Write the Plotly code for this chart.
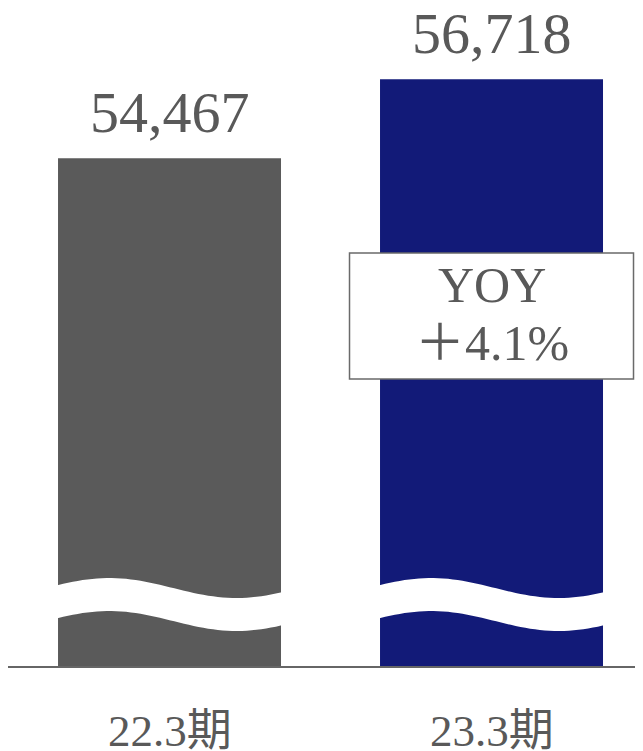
import math
import plotly.graph_objects as go

# ---- data ----
categories = ["22.3期", "23.3期"]
values = [54467, 56718]
yoy_label = "YOY"
yoy_value = "＋4.1%"

# ---- styles ----
bar_colors = ["#5a5a5a", "#121a78"]
text_color = "#595959"
serif = "Liberation Serif, Noto Sans CJK JP, serif"
W, H = 643, 751
m_l, m_r, m_t, m_b = 0, 0, 0, 93
plot_h = H - m_t - m_b
bar_w = 0.6925
y_range = [40000, 58750]
x_range = [-0.5016, 1.4953]
px_per_unit_x = (W - m_l - m_r) / (x_range[1] - x_range[0])

xs = list(range(len(categories)))

fig = go.Figure()
fig.add_trace(go.Bar(
    x=xs, y=values, width=bar_w,
    marker=dict(color=bar_colors, line=dict(width=0)),
    hoverinfo="skip",
))

# value labels above bars
for x, v in zip(xs, values):
    fig.add_annotation(x=x, y=v, xref="x", yref="y", text=f"{v:,}",
                       showarrow=False, yanchor="middle", yshift=46,
                       font=dict(family=serif, size=58, color=text_color))

# category labels under axis
for x, c in zip(xs, categories):
    fig.add_annotation(x=x, y=0, xref="x", yref="paper", text=c,
                       showarrow=False, yanchor="middle", yshift=-65,
                       font=dict(family=serif, size=45, color=text_color))

# wavy white break across each bar
def wave_path(xc):
    n = 48
    top, bot = [], []
    for i in range(n + 1):
        t = -0.02 + 1.04 * i / n
        d = 78 + 10 * math.cos(2 * math.pi * (t - 0.23) / 1.14)
        xv = xc - bar_w / 2 + t * bar_w
        top.append((xv, d / plot_h))
        bot.append((xv, (d - 33) / plot_h))
    pts = top + bot[::-1]
    return "M " + " L ".join(f"{a:.5f},{b:.5f}" for a, b in pts) + " Z"

for x in xs:
    fig.add_shape(type="path", path=wave_path(x), xref="x", yref="paper",
                  fillcolor="white", line=dict(width=0), layer="above")

# YOY box on second bar
half_w = 142 / px_per_unit_x
fig.add_shape(type="rect", xref="x", yref="paper",
              x0=xs[1] - half_w, x1=xs[1] + half_w,
              y0=287 / plot_h, y1=413 / plot_h,
              fillcolor="white", line=dict(color="#6a6a6a", width=1.5),
              layer="above")
fig.add_annotation(x=xs[1], y=381 / plot_h, xref="x", yref="paper",
                   text=yoy_label, showarrow=False, yanchor="middle",
                   font=dict(family=serif, size=50, color=text_color))
fig.add_annotation(x=xs[1], y=323 / plot_h, xref="x", yref="paper",
                   text=yoy_value, showarrow=False, yanchor="middle",
                   font=dict(family=serif, size=50, color=text_color))

fig.update_layout(
    width=W, height=H,
    margin=dict(l=m_l, r=m_r, t=m_t, b=m_b),
    paper_bgcolor="white", plot_bgcolor="white",
    showlegend=False,
    xaxis=dict(range=x_range, showticklabels=False, showgrid=False,
               zeroline=False, showline=True, linecolor="#666666",
               linewidth=2, ticks=""),
    yaxis=dict(range=y_range, visible=False, showgrid=False, zeroline=False),
)

fig.write_html("out.html")
